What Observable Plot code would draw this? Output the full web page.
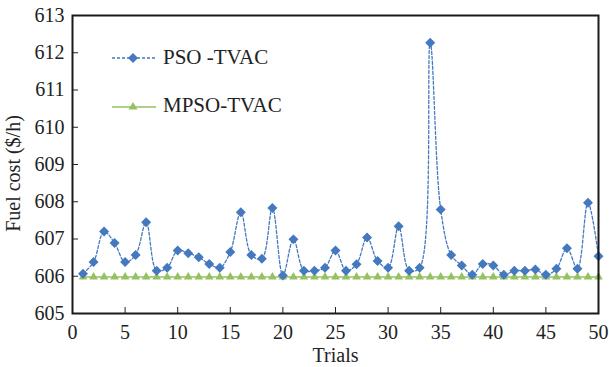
<!DOCTYPE html>
<html><head><meta charset="utf-8">
<script src="https://cdn.jsdelivr.net/npm/d3@7"></script>
<script src="https://cdn.jsdelivr.net/npm/@observablehq/plot@0.6"></script>
<style>
body{margin:0;background:#fff;}
#wrap{position:relative;width:609px;height:367px;font-family:"Liberation Serif","Times New Roman",serif;}
.leg{position:absolute;left:111px;font-size:21px;color:#222;display:flex;align-items:center;line-height:1;}
.leg svg{margin-right:6px;}
</style></head><body><div id="wrap"></div>
<script>
const trials = [1,2,3,4,5,6,7,8,9,10,11,12,13,14,15,16,17,18,19,20,21,22,23,24,25,26,27,28,29,30,31,32,33,34,35,36,37,38,39,40,41,42,43,44,45,46,47,48,49,50];
const psoTvac = [606.07,606.38,607.20,606.89,606.38,606.57,607.45,606.15,606.23,606.69,
                 606.62,606.51,606.33,606.23,606.65,607.72,606.57,606.47,607.83,606.02,
                 606.99,606.15,606.15,606.23,606.69,606.15,606.32,607.04,606.41,606.23,
                 607.34,606.15,606.23,612.27,607.79,606.57,606.29,606.04,606.33,606.29,
                 606.04,606.15,606.15,606.18,606.04,606.20,606.75,606.20,607.97,606.54];
const mpsoTvac = [605.98,605.98,605.98,605.98,605.98,605.98,605.98,605.98,605.98,605.98,
                  605.98,605.98,605.98,605.98,605.98,605.98,605.98,605.98,605.98,605.98,
                  605.98,605.98,605.98,605.98,605.98,605.98,605.98,605.98,605.98,605.98,
                  605.98,605.98,605.98,605.98,605.98,605.98,605.98,605.98,605.98,605.98,
                  605.98,605.98,605.98,605.98,605.98,605.98,605.98,605.98,605.98,605.98];
const seriesNames = ["PSO -TVAC", "MPSO-TVAC"];
const xTicks = [0,5,10,15,20,25,30,35,40,45,50];
const yTicks = [605,606,607,608,609,610,611,612,613];
const xLabel = "Trials";
const yLabel = "Fuel cost ($/h)";

const blue = "#4478bf", green = "#95c160";
const pso = trials.map((t,i)=>({trial:t, cost:psoTvac[i]}));
const mpso = trials.map((t,i)=>({trial:t, cost:mpsoTvac[i]}));

const chart = Plot.plot({
  width: 609, height: 367,
  marginLeft: 72, marginRight: 11, marginTop: 15, marginBottom: 54,
  style: {fontFamily: '"Liberation Serif","Times New Roman",serif', fontSize: "20px", color: "#222", background: "#fff"},
  x: {domain: [0, 50]},
  y: {domain: [605, 613]},
  marks: [
    Plot.line(mpso, {x: "trial", y: "cost", stroke: green, strokeWidth: 1.5}),
    Plot.dot(mpso, {x: "trial", y: "cost", symbol: "triangle", fill: green, r: 3.2}),
    Plot.line(pso, {x: "trial", y: "cost", curve: "catmull-rom", stroke: blue, strokeWidth: 1.3, strokeDasharray: "3,2"}),
    Plot.dot(pso, {x: "trial", y: "cost", symbol: "diamond2", fill: blue, stroke: "none", r: 4.5}),
    Plot.axisX({ticks: xTicks, tickSize: -6, tickPadding: 17, fontSize: 20, label: xLabel, labelAnchor: "center", labelOffset: 48, labelArrow: "none"}),
    Plot.axisY({ticks: yTicks, tickSize: -6, tickPadding: 14, fontSize: 20, label: null}),
    Plot.text([yLabel], {text: d => d, frameAnchor: "left", textAnchor: "middle", rotate: -90, dx: -59, dy: 9, fontSize: 20, fill: "#222"}),
    Plot.frame({stroke: "#1a1a1a", strokeWidth: 2})
  ]
});
const wrap = document.getElementById("wrap");
wrap.appendChild(chart);

function legendItem(name, top, kind){
  const d = document.createElement("div");
  d.className = "leg";
  d.style.top = top + "px";
  let sw;
  if (kind === 0) {
    sw = `<svg width="46" height="14"><line x1="1" y1="7" x2="45" y2="7" stroke="${blue}" stroke-width="1.3" stroke-dasharray="3,2"/><path d="M22,2 L27,7 L22,12 L17,7Z" fill="${blue}"/></svg>`;
  } else {
    sw = `<svg width="46" height="14"><line x1="1" y1="8" x2="45" y2="8" stroke="${green}" stroke-width="1.5"/><path d="M22,3 L26.5,10.5 L17.5,10.5Z" fill="${green}"/></svg>`;
  }
  d.innerHTML = sw + `<span>${name}</span>`;
  wrap.appendChild(d);
}
legendItem(seriesNames[0], 47, 0);
legendItem(seriesNames[1], 95, 1);
</script></body></html>
